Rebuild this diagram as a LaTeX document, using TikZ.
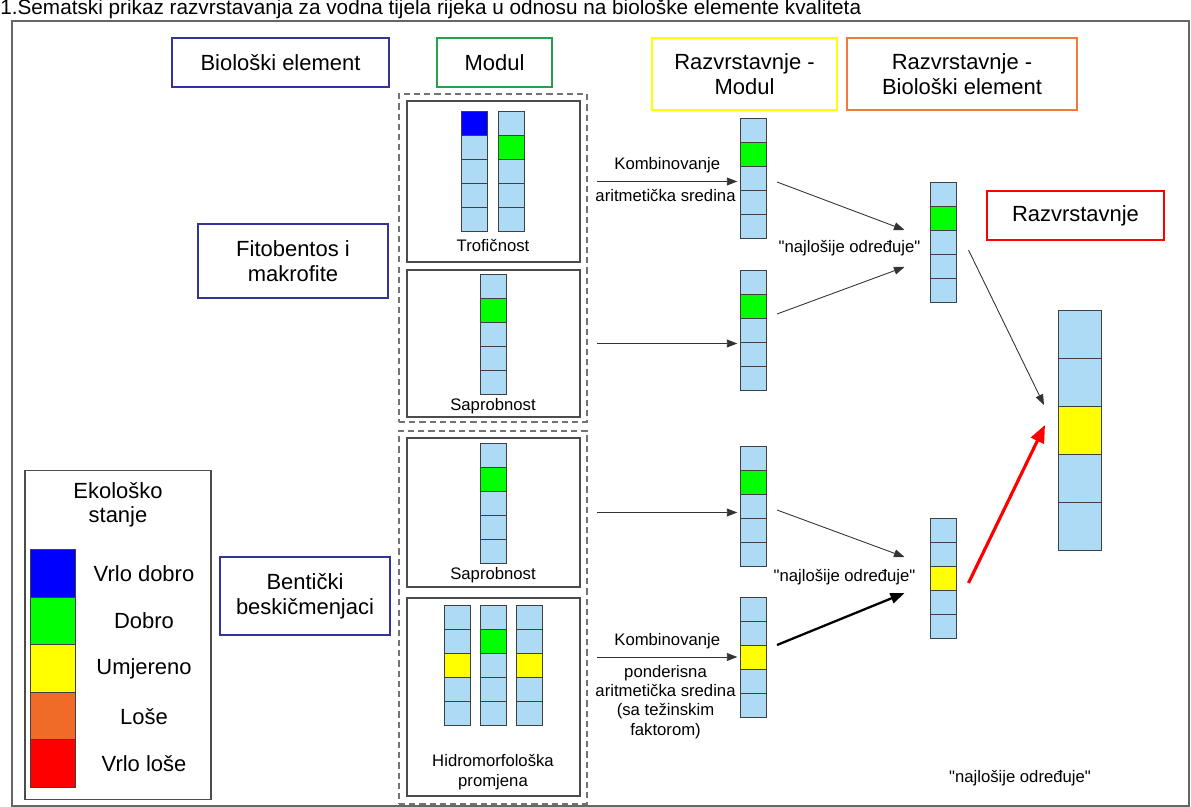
\documentclass[tikz,border=0pt]{standalone}
\usepackage{fontspec}
\setmainfont{Liberation Sans}
\usepackage{xcolor}
\usetikzlibrary{arrows.meta,positioning,calc}

\definecolor{cellblue}{HTML}{ADDBF5}
\definecolor{vdobro}{HTML}{0000FF}
\definecolor{dobro}{HTML}{00FF00}
\definecolor{umjereno}{HTML}{FFFF00}
\definecolor{lose}{HTML}{F06A28}
\definecolor{vlose}{HTML}{FF0000}
\definecolor{navy}{HTML}{333399}
\definecolor{modgreen}{HTML}{22A24A}
\definecolor{hdrorange}{HTML}{F4793B}

% stupac od 5 celija: ime, x, y vrh, sirina, visina celije, obojene celije
\newcommand{\stupac}[6]{%
  \foreach \k in {1,...,5}
    \node[cell,minimum width=#4*0.02cm,minimum height=#5*0.02cm,anchor=north] (#1-\k) at (#2,{#3+(\k-1)*#5}) {};
  \foreach \k/\c in {#6}
    \node[cell,fill=\c,minimum width=#4*0.02cm,minimum height=#5*0.02cm,anchor=north] (#1-x\k) at (#2,{#3+(\k-1)*#5}) {};
}

\begin{document}
\begin{tikzpicture}[x=0.02cm,y=-0.02cm,font=\fontsize{9.5}{11}\selectfont]
  \tikzstyle{zaglavlje}=[draw,line width=1pt,align=center,font=\fontsize{12.5}{14}\selectfont]
  \tikzstyle{okvir}=[draw=black!70,line width=0.6pt]
  \tikzstyle{grupa}=[draw=black!55,dash pattern=on 3.5pt off 2.3pt,line width=0.7pt]
  \tikzstyle{cell}=[draw=black!75,fill=cellblue,line width=0.5pt,inner sep=0pt,outer sep=0pt]
  \tikzstyle{veza}=[-{Triangle[length=6pt,width=4.5pt]},black!80,line width=0.5pt]
  \useasboundingbox (0,0) rectangle (1191,807);
  \node[anchor=base west,inner sep=0pt,font=\fontsize{11.8}{13}\selectfont] (naslov) at (0,15)
    {1.Šematski prikaz razvrstavanja za vodna tijela rijeka u odnosu na biološke elemente kvaliteta};
  \draw[draw=black!60,line width=0.8pt] (12,21) rectangle (1189,806);

  % zaglavlja
  \node[zaglavlje,draw=navy,minimum width=4.34cm,minimum height=0.98cm] (bio) at (280.5,62.5) {Biološki element};
  \node[zaglavlje,draw=modgreen,minimum width=2.3cm,minimum height=0.98cm] (modul) at (494.5,62.5) {Modul};
  \node[zaglavlje,draw=umjereno,minimum width=3.7cm,minimum height=1.44cm] (rmod) at (744.5,74) {Razvrstavnje -\\Modul};
  \node[zaglavlje,draw=hdrorange,minimum width=4.6cm,minimum height=1.44cm] (rbio) at (962,74) {Razvrstavnje -\\Biološki element};
  \node[zaglavlje,draw=vlose,minimum width=3.54cm,minimum height=0.98cm] (rfin) at (1075.5,215.5) {Razvrstavnje};
  \node[zaglavlje,draw=navy,minimum width=3.8cm,minimum height=1.48cm] (fito) at (293,261) {Fitobentos i\\makrofite};
  \node[zaglavlje,draw=navy,minimum width=3.4cm,minimum height=1.56cm] (bent) at (305,596) {Bentički\\beskičmenjaci};

  % moduli
  \node[grupa,minimum width=3.76cm,minimum height=6.56cm] (grpA) at (493,258) {};
  \node[grupa,minimum width=3.76cm,minimum height=7.46cm] (grpB) at (493,617.5) {};
  \node[okvir,minimum width=3.46cm,minimum height=3.22cm] (trofbox) at (493.5,181.5) {};
  \node[okvir,minimum width=3.46cm,minimum height=2.94cm] (sap1box) at (493.5,343.5) {};
  \node[okvir,minimum width=3.46cm,minimum height=2.98cm] (sap2box) at (493.5,512.5) {};
  \node[okvir,minimum width=3.46cm,minimum height=3.96cm] (hidbox) at (493.5,697) {};
  \node (troflab) at (493,246) {Trofičnost};
  \node (sap1lab) at (493,406) {Saprobnost};
  \node (sap2lab) at (493,575) {Saprobnost};
  \node[align=center] (hidlab) at (493,772) {Hidromorfološka\\promjena};

  \stupac{trof1}{474}{111}{26}{24}{1/vdobro}
  \stupac{trof2}{511}{111}{26}{24}{2/dobro}
  \stupac{sap1}{493}{274}{26}{24}{2/dobro}
  \stupac{sap2}{493}{443}{26}{24}{2/dobro}
  \stupac{hid1}{457.5}{605}{26}{24}{3/umjereno}
  \stupac{hid2}{493}{605}{26}{24}{2/dobro}
  \stupac{hid3}{529}{605}{26}{24}{3/umjereno}
  \stupac{modA}{753}{118}{26}{24}{2/dobro}
  \stupac{modB}{753}{270}{26}{24}{2/dobro}
  \stupac{modC}{753}{446}{26}{24}{2/dobro}
  \stupac{modD}{753}{597}{26}{24}{3/umjereno}
  \stupac{elE}{943.5}{182}{26}{24}{2/dobro}
  \stupac{elF}{943.5}{518}{26}{24}{3/umjereno}
  \stupac{konac}{1079.5}{310}{43}{48}{3/umjereno}

  % modul -> razvrstavanje modula
  \draw[veza,shorten <=9.6pt,shorten >=1.5pt] (trofbox.east) -- (trofbox.east -| modA-3.west)
    node[midway,above=1pt,text=black,xshift=4pt] {Kombinovanje}
    node[midway,below=1pt,text=black,xshift=3pt] {aritmetička sredina};
  \draw[veza,shorten <=9.6pt,shorten >=1.5pt] (sap1box.east) -- (sap1box.east -| modB-3.west);
  \draw[veza,shorten <=9.6pt,shorten >=1.5pt] (sap2box.east) -- (sap2box.east -| modC-3.west);
  \draw[veza,shorten <=9.6pt,shorten >=1.5pt] (modD-3.west -| hidbox.east) -- (modD-3.west)
    node[midway,above=1pt,text=black,xshift=4pt] {Kombinovanje}
    node[midway,below=1pt,align=center,text=black,xshift=3pt] {ponderisna\\aritmetička sredina\\(sa težinskim\\faktorom)};

  % razvrstavanje modula -> bioloski element
  \coordinate (a1) at ($(modA-3.east)+(11,4)$);
  \coordinate (e1) at ($(elE-3.west)+(-26,-12)$);
  \coordinate (a2) at ($(modB-3.east)+(11,-16)$);
  \coordinate (e2) at ($(elE-3.west)+(-26,25)$);
  \coordinate (a3) at ($(modC-3.east)+(11,4)$);
  \coordinate (e3) at ($(elF-3.west)+(-26,-21)$);
  \coordinate (a4) at ($(modD-3.east)+(11,-12)$);
  \coordinate (e4) at ($(elF-3.west)+(-26,15)$);
  \draw[veza] (a1) -- (e1);
  \draw[veza] (a2) -- (e2);
  \draw[veza] (a3) -- (e3);
  \draw[-{Triangle[length=8pt,width=6pt]},black,line width=1.3pt] (a4) -- (e4);
  \node (najE) at ($(elE-3.west)+(-81,6)$) {\textquotedbl najlošije određuje\textquotedbl};
  \node (najF) at ($(elF-3.west)+(-86,-1)$) {\textquotedbl najlošije određuje\textquotedbl};

  % bioloski element -> konacno razvrstavanje
  \coordinate (b1) at ($(elE-3.east)+(12,8)$);
  \coordinate (k1) at ($(konac-3.west)+(-14,-25)$);
  \coordinate (b2) at ($(elF-3.east)+(12,5)$);
  \coordinate (k2) at ($(konac-3.west)+(-13,-5)$);
  \draw[veza] (b1) -- (k1);
  \draw[-{Triangle[length=10pt,width=8pt]},vlose,line width=1.8pt] (b2) -- (k2);
  \node (najK) at (1020,778) {\textquotedbl najlošije određuje\textquotedbl};

  % legenda
  \node[okvir,minimum width=3.72cm,minimum height=6.6cm] (legenda) at (118,635) {};
  \node[align=center,font=\fontsize{12.5}{13.6}\selectfont] (legnaslov) at (118,505) {Ekološko\\stanje};
  \foreach \i/\c/\t in {0/vdobro/Vrlo dobro,1/dobro/Dobro,2/umjereno/Umjereno,3/lose/Loše,4/vlose/Vrlo loše}{
    \node[cell,fill=\c,minimum width=0.9cm,minimum height=0.96cm] (leg\i) at (52.5,{573.5+47.6*\i}) {};
    \node[font=\fontsize{12.5}{14}\selectfont] (legt\i) at (144,{573.5+47.6*\i}) {\t};
  }
\end{tikzpicture}
\end{document}
